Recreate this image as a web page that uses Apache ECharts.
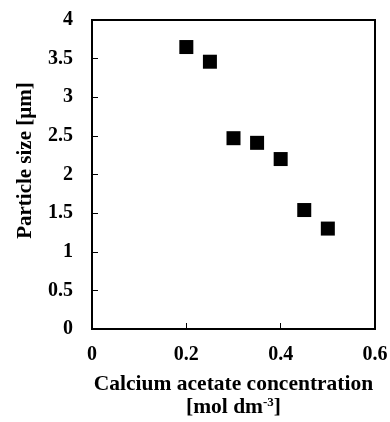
<!DOCTYPE html>
<html>
<head>
<meta charset="utf-8">
<script src="https://cdn.jsdelivr.net/npm/echarts@6/dist/echarts.min.js"></script>
<style>
  html, body { margin: 0; padding: 0; background: #fff; }
  #chart { width: 390px; height: 422px; }
</style>
</head>
<body>
<div id="chart"></div>
<script>
// calcium acetate concentration [mol dm-3]
const concentration = [0.2, 0.25, 0.3, 0.35, 0.4, 0.45, 0.5];
// particle size [um]
const particleSize = [3.65, 3.46, 2.47, 2.41, 2.2, 1.54, 1.3];

const xTicks = [0, 0.2, 0.4, 0.6];
const yTicks = [0, 0.5, 1, 1.5, 2, 2.5, 3, 3.5, 4];

const font = '"Liberation Serif", "Times New Roman", serif';

const chart = echarts.init(document.getElementById('chart'));

chart.setOption({
  animation: false,
  grid: {
    left: 92,
    right: 15,
    top: 20,
    bottom: 93,
    outerBoundsMode: 'none',
    show: true,
    borderColor: '#000',
    borderWidth: 2,
  },
  xAxis: {
    type: 'value',
    min: xTicks[0],
    max: xTicks[xTicks.length - 1],
    interval: 0.2,
    name: 'Calcium acetate concentration\n[mol dm{sup|-3}]',
    nameLocation: 'middle',
    nameGap: 44,
    nameTextStyle: {
      fontFamily: font,
      fontWeight: 'bold',
      fontSize: 21.5,
      color: '#000',
      lineHeight: 23,
      rich: {
        sup: {
          fontFamily: font,
          fontWeight: 'bold',
          fontSize: 13,
          color: '#000',
          padding: [0, 0, 9, 0],
        },
      },
    },
    axisLine: { lineStyle: { color: '#000', width: 2 } },
    axisTick: { inside: true, length: 6, lineStyle: { color: '#000', width: 1 } },
    splitLine: { show: false },
    axisLabel: {
      margin: 16,
      fontFamily: font,
      fontWeight: 'bold',
      fontSize: 20,
      color: '#000',
      formatter: (v) => String(Math.round(v * 10) / 10),
    },
  },
  yAxis: {
    type: 'value',
    min: yTicks[0],
    max: yTicks[yTicks.length - 1],
    interval: 0.5,
    name: 'Particle size [µm]',
    nameLocation: 'middle',
    nameGap: 56,
    nameTextStyle: {
      fontFamily: font,
      fontWeight: 'bold',
      fontSize: 21,
      color: '#000',
      padding: [0, 0, 0, 28],
    },
    axisLine: { show: true, lineStyle: { color: '#000', width: 2 } },
    axisTick: { show: true, inside: true, length: 6, lineStyle: { color: '#000', width: 1 } },
    splitLine: { show: false },
    axisLabel: {
      margin: 19,
      fontFamily: font,
      fontWeight: 'bold',
      fontSize: 20,
      color: '#000',
    },
  },
  series: [
    {
      type: 'scatter',
      symbol: 'rect',
      symbolSize: 14,
      itemStyle: { color: '#000', opacity: 1 },
      data: concentration.map((c, i) => [c, particleSize[i]]),
    },
  ],
});
</script>
</body>
</html>
